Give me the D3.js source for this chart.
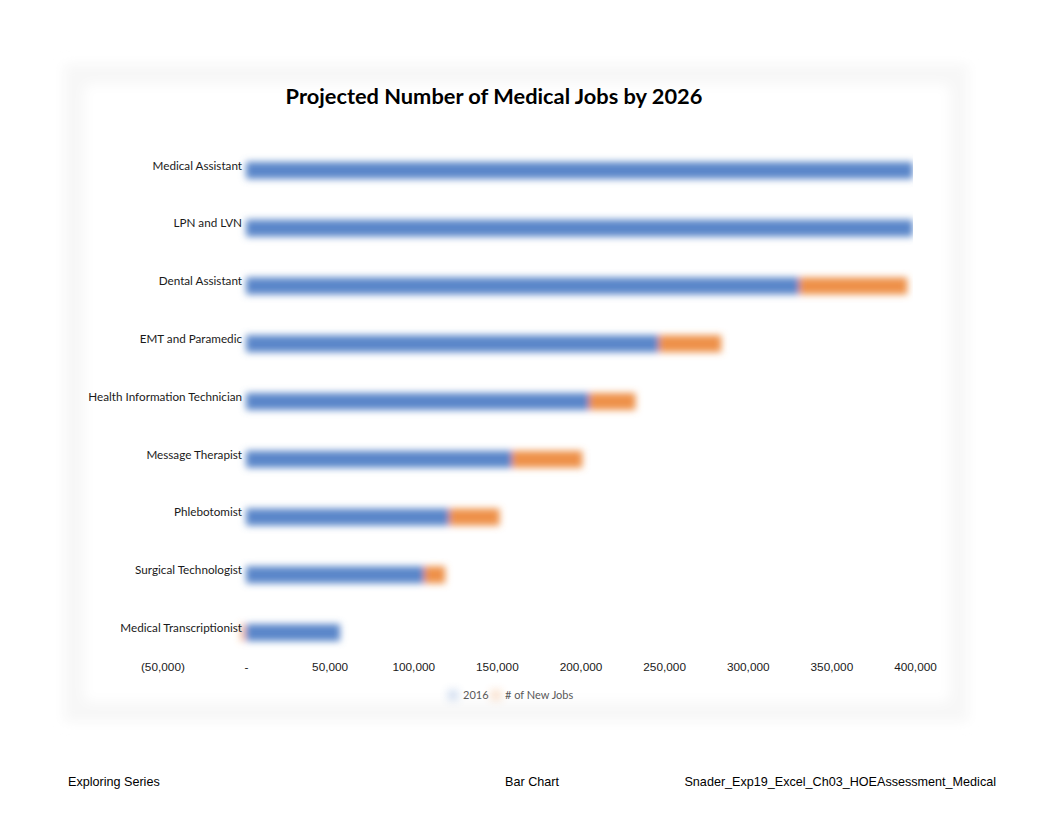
<!DOCTYPE html>
<html>
<head>
<meta charset="utf-8">
<script src="https://cdn.jsdelivr.net/npm/d3@7"></script>
<style>
  html, body { margin: 0; padding: 0; background: #ffffff; }
  svg { display: block; }
</style>
</head>
<body>
<svg id="chart" width="1062" height="821"></svg>
<script>
const title = "Projected Number of Medical Jobs by 2026";
const categories = ["Medical Assistant", "LPN and LVN", "Dental Assistant", "EMT and Paramedic",
  "Health Information Technician", "Message Therapist", "Phlebotomist", "Surgical Technologist",
  "Medical Transcriptionist"];
const jobs2016 = [634400, 724500, 332000, 248000, 206300, 160300, 122700, 107700, 57400];
const newJobs = [183900, 88900, 64600, 37400, 27800, 42000, 30100, 12600, -1700];
const seriesNames = ["2016", "# of New Jobs"];
const xTicks = [-50000, 0, 50000, 100000, 150000, 200000, 250000, 300000, 350000, 400000];
const footerLeft = "Exploring Series";
const footerCenter = "Bar Chart";
const footerRight = "Snader_Exp19_Excel_Ch03_HOEAssessment_Medical";

const colors = ["#5A86C9", "#EE914A"];

const svg = d3.select("#chart");
const defs = svg.append("defs");
defs.append("filter").attr("id", "soft").attr("x", "-10%").attr("y", "-100%").attr("width", "120%").attr("height", "300%")
  .append("feGaussianBlur").attr("stdDeviation", 3.5);
defs.append("filter").attr("id", "softer").attr("x", "-150%").attr("y", "-150%").attr("width", "400%").attr("height", "400%")
  .append("feGaussianBlur").attr("stdDeviation", 4);
defs.append("filter").attr("id", "frameblur").attr("x", "-5%").attr("y", "-5%").attr("width", "110%").attr("height", "110%")
  .append("feGaussianBlur").attr("stdDeviation", 6);

// chart frame (soft)
svg.append("rect").attr("x", 64).attr("y", 64).attr("width", 904).attr("height", 658)
  .attr("fill", "#f7f7f7").attr("filter", "url(#frameblur)");
svg.append("rect").attr("x", 84).attr("y", 84).attr("width", 866).attr("height", 618).attr("rx", 8)
  .attr("fill", "#ffffff").attr("filter", "url(#frameblur)");

const x = d3.scaleLinear().domain([-50000, 400000]).range([160.4, 913]);
const y = d3.scaleBand().domain(categories).range([141, 661]).paddingInner(0.7).paddingOuter(0.35);

// gridlines
svg.append("g").selectAll("line").data(xTicks).join("line")
  .attr("x1", d => x(d)).attr("x2", d => x(d))
  .attr("y1", 141).attr("y2", 655)
  .attr("stroke", "#f3f3f3").attr("stroke-width", 3).attr("filter", "url(#softer)");

// title
svg.append("text").attr("x", 494).attr("y", 104).attr("text-anchor", "middle")
  .attr("font-family", "Lato, 'Open Sans', sans-serif").attr("font-weight", "bold")
  .attr("font-size", 21.8).attr("fill", "#000").text(title);

// clip to plot area
defs.append("clipPath").attr("id", "plotclip").append("rect")
  .attr("x", x(-50000)).attr("y", 130).attr("width", x(400000) - x(-50000)).attr("height", 540);

const stacked = categories.map((c, i) => {
  const a = jobs2016[i], b = newJobs[i];
  const s1 = [0, a];
  const s2 = b >= 0 ? [a, a + b] : [b, 0];
  return { c, segs: [s1, s2] };
});

const bars = svg.append("g").attr("clip-path", "url(#plotclip)").append("g").attr("filter", "url(#soft)");
[0, 1].forEach(si => {
  bars.append("g").selectAll("rect").data(stacked).join("rect")
    .attr("x", d => x(Math.min(d.segs[si][0], d.segs[si][1])) + (si === 0 ? 2 : 0))
    .attr("width", d => Math.max(0, Math.min(x(400000), x(Math.max(d.segs[si][0], d.segs[si][1]))) - x(Math.min(d.segs[si][0], d.segs[si][1])) - (si === 0 ? 2 : 0)))
    .attr("y", d => y(d.c) + (y.bandwidth() - 17) / 2 + 0.5)
    .attr("height", 17)
    .attr("fill", colors[si]);
});

// y axis labels
const yAxis = d3.axisLeft(y).tickSize(0).tickPadding(0);
const gy = svg.append("g").attr("transform", `translate(${x(0) - 2},-4)`).call(yAxis);
gy.select(".domain").remove();
gy.selectAll("text").attr("font-family", "Lato, sans-serif").attr("font-size", 11.7).attr("fill", "#1a1a1a");

// x axis labels
const fmt = d => d < 0 ? "(" + d3.format(",")(-d) + ")" : (d === 0 ? "-" : d3.format(",")(d));
const xAxis = d3.axisBottom(x).tickValues(xTicks).tickFormat(fmt).tickSize(0).tickPadding(0);
const gx = svg.append("g").attr("transform", "translate(2,664)").call(xAxis);
gx.select(".domain").remove();
gx.selectAll("text").attr("font-family", "'Liberation Sans', Arial, sans-serif").attr("font-size", 11.8).attr("fill", "#1a1a1a")
  .attr("dy", "0.6em");

// legend
const legend = svg.append("g");
const legendItems = [{ name: seriesNames[0], mx: 453, tx: 463 }, { name: seriesNames[1], mx: 496, tx: 505 }];
legend.selectAll("rect").data(legendItems).join("rect")
  .attr("x", d => d.mx - 5).attr("y", 690).attr("width", 10).attr("height", 10)
  .attr("fill", (d, i) => colors[i]).attr("opacity", 0.3).attr("filter", "url(#softer)");
legend.selectAll("text").data(legendItems).join("text")
  .attr("x", d => d.tx).attr("y", 699)
  .attr("font-family", "Lato, sans-serif").attr("font-size", 11).attr("fill", "#595959")
  .text(d => d.name);

// footer
const ff = "'Liberation Sans', sans-serif";
svg.append("text").attr("x", 68).attr("y", 786).attr("font-family", ff).attr("font-size", 12.6).attr("fill", "#000").text(footerLeft);
svg.append("text").attr("x", 532).attr("y", 786).attr("text-anchor", "middle").attr("font-family", ff).attr("font-size", 12.6).attr("fill", "#000").text(footerCenter);
svg.append("text").attr("x", 996).attr("y", 786).attr("text-anchor", "end").attr("font-family", ff).attr("font-size", 12.6).attr("fill", "#000").text(footerRight);
</script>
</body>
</html>
